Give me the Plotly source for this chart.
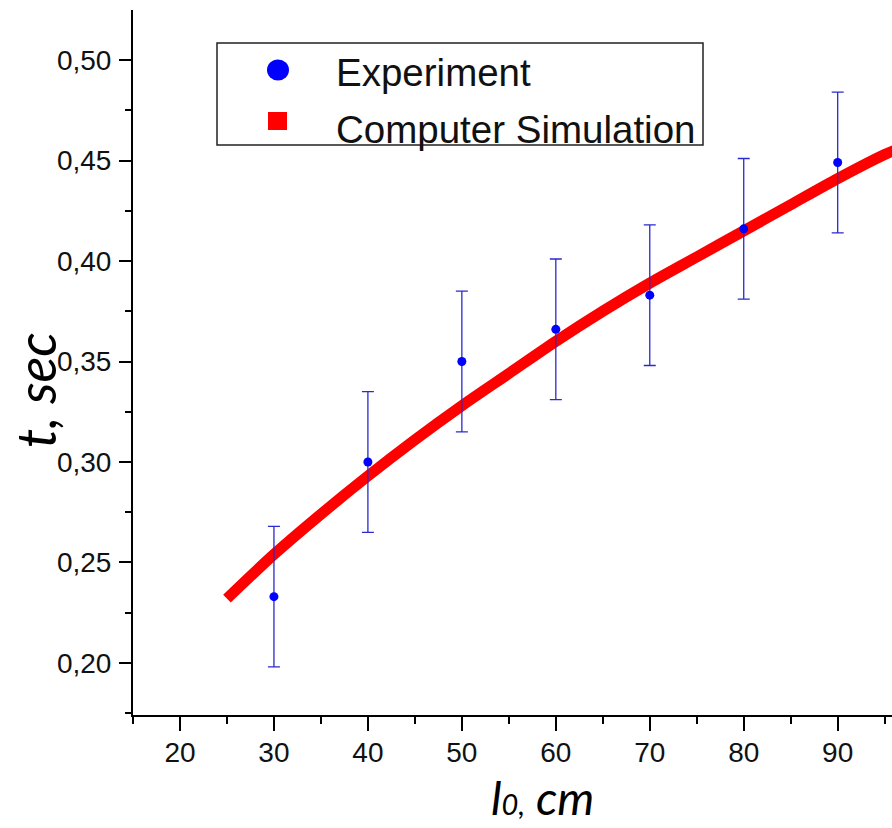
import plotly.graph_objects as go

# ---- data ----
exp_length_cm = [30, 40, 50, 60, 70, 80, 90]
exp_time_s = [0.233, 0.300, 0.350, 0.366, 0.383, 0.416, 0.449]
exp_error_s = [0.035, 0.035, 0.035, 0.035, 0.035, 0.035, 0.035]

sim_length_cm = [25, 30, 35, 40, 45, 50, 55, 60, 65, 70, 75, 80, 85, 90, 95, 96]
sim_time_s = [0.232, 0.254, 0.274, 0.293, 0.311, 0.328, 0.344, 0.360,
              0.375, 0.389, 0.402, 0.415, 0.428, 0.441, 0.453, 0.455]

x_tick_vals = [20, 30, 40, 50, 60, 70, 80, 90]
x_tick_labels = ["20", "30", "40", "50", "60", "70", "80", "90"]
y_tick_vals = [0.20, 0.25, 0.30, 0.35, 0.40, 0.45, 0.50]
y_tick_labels = ["0,20", "0,25", "0,30", "0,35", "0,40", "0,45", "0,50"]

legend_names = ["Experiment", "Computer Simulation"]
x_title = "l<span style='font-size:29px'>0,</span> cm"
y_title = "t, sec"

# ---- figure ----
W, H = 892, 828
ML, MR, MT, MB = 133, 0, 10, 113
PW, PH = W - ML - MR, H - MT - MB


def px_x(px):
    return (px - ML) / PW


def px_y(py):
    return (H - MB - py) / PH


fig = go.Figure()
fig.add_trace(go.Scatter(
    x=sim_length_cm, y=sim_time_s, mode="lines",
    line=dict(color="#ff0000", width=11, shape="spline", smoothing=0.8),
    name=legend_names[1], showlegend=False, cliponaxis=True,
))
fig.add_trace(go.Scatter(
    x=exp_length_cm, y=exp_time_s, mode="markers",
    marker=dict(color="#0000ff", size=9, symbol="circle"),
    error_y=dict(type="data", array=exp_error_s, visible=True,
                 color="#2a2ad0", thickness=1.3, width=6),
    name=legend_names[0], showlegend=False,
))

tickfont = dict(family="Liberation Sans, Arial, sans-serif", size=28, color="#111111")

fig.update_layout(
    width=W, height=H,
    margin=dict(l=ML, r=MR, t=MT, b=MB, pad=0),
    paper_bgcolor="white", plot_bgcolor="white",
    showlegend=False,
    xaxis=dict(
        range=[15, 95.78], showgrid=False, zeroline=False,
        showline=True, linecolor="black", linewidth=2,
        tickmode="array", tickvals=x_tick_vals, ticktext=x_tick_labels,
        ticks="outside", ticklen=14, tickwidth=2, tickcolor="black",
        tickfont=tickfont, ticklabelstandoff=-3,
        minor=dict(tickmode="linear", tick0=0, dtick=5, ticks="outside",
                   ticklen=7, tickwidth=2, tickcolor="black", showgrid=False),
    ),
    yaxis=dict(
        range=[0.1741, 0.5249], showgrid=False, zeroline=False,
        showline=True, linecolor="black", linewidth=2,
        tickmode="array", tickvals=y_tick_vals, ticktext=y_tick_labels,
        ticks="outside", ticklen=12, tickwidth=2, tickcolor="black",
        tickfont=tickfont, ticklabelstandoff=2,
        minor=dict(tickmode="linear", tick0=0, dtick=0.025, ticks="outside",
                   ticklen=6, tickwidth=2, tickcolor="black", showgrid=False),
    ),
)

# ---- legend (drawn manually to match box layout) ----
shapes = [
    dict(type="rect", xref="paper", yref="paper",
         x0=px_x(217), x1=px_x(703), y0=px_y(145), y1=px_y(43),
         line=dict(color="#222222", width=1.5), fillcolor="white", layer="above"),
    dict(type="circle", xref="paper", yref="paper",
         xsizemode="pixel", ysizemode="pixel",
         xanchor=px_x(278), yanchor=px_y(70),
         x0=-11, x1=11, y0=-10.5, y1=10.5,
         fillcolor="#0000ff", line=dict(width=0), layer="above"),
    dict(type="rect", xref="paper", yref="paper",
         xsizemode="pixel", ysizemode="pixel",
         xanchor=px_x(277.5), yanchor=px_y(121),
         x0=-9.5, x1=9.5, y0=-9, y1=9,
         fillcolor="#ff0000", line=dict(width=0), layer="above"),
]
legend_font = dict(family="Liberation Sans, Arial, sans-serif", size=38.5, color="#111111")
annotations = [
    dict(text=legend_names[0], xref="paper", yref="paper",
         x=px_x(334), y=px_y(72), xanchor="left", yanchor="middle",
         showarrow=False, font=legend_font),
    dict(text=legend_names[1], xref="paper", yref="paper",
         x=px_x(334), y=px_y(129), xanchor="left", yanchor="middle",
         showarrow=False, font=legend_font),
    dict(text=y_title, xref="paper", yref="paper",
         x=px_x(35), y=px_y(390), xanchor="center", yanchor="middle",
         textangle=-90, showarrow=False,
         font=dict(family="Lato, sans-serif", size=54, style="italic", color="black")),
    dict(text=x_title, xref="paper", yref="paper",
         x=px_x(542), y=px_y(797), xanchor="center", yanchor="middle",
         showarrow=False,
         font=dict(family="Lato, sans-serif", size=47, style="italic", color="black")),
]
fig.update_layout(shapes=shapes, annotations=annotations)

fig.write_html("out.html")
